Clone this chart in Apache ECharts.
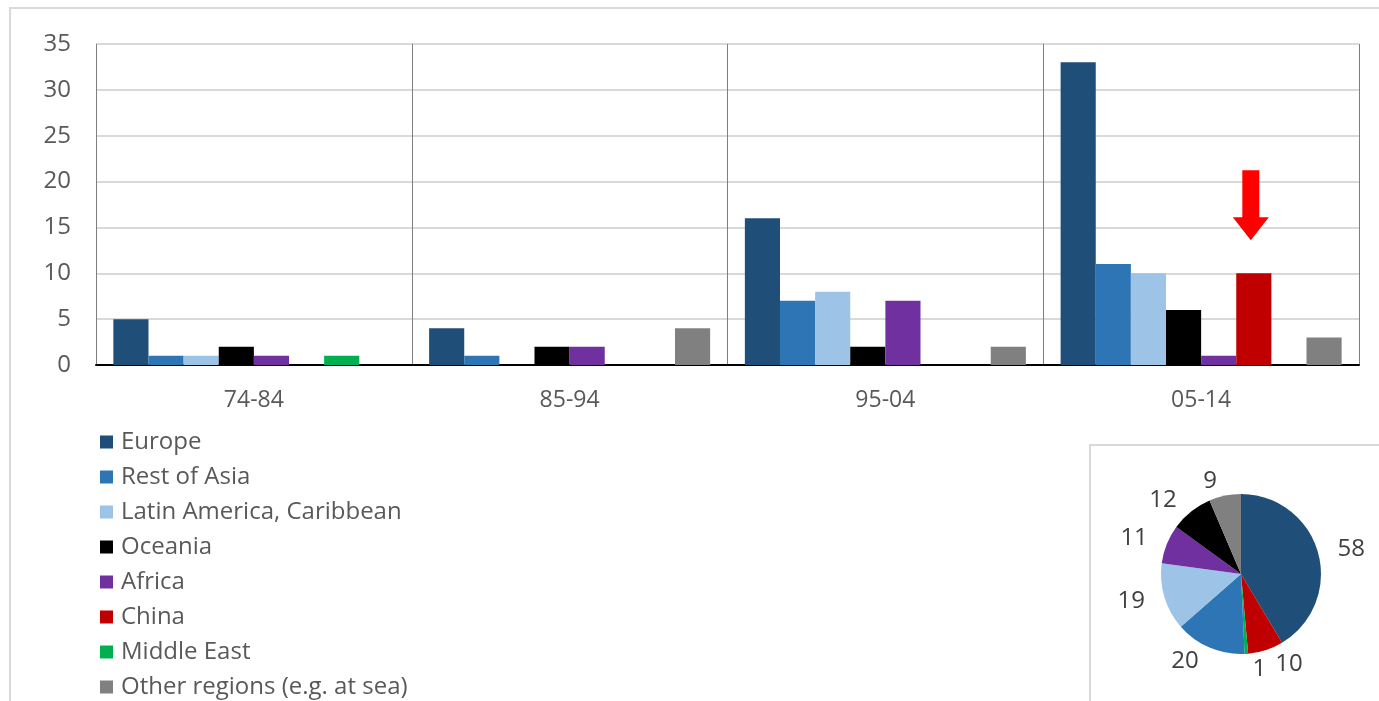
<!DOCTYPE html>
<html>
<head>
<meta charset="utf-8">
<script src="https://cdn.jsdelivr.net/npm/echarts@6/dist/echarts.min.js"></script>
<style>
  html, body { margin: 0; padding: 0; background: #fff; }
  #main { width: 1379px; height: 701px; }
</style>
</head>
<body>
<div id="main"></div>
<script>
// periods on the x axis
const periods = ["74-84", "85-94", "95-04", "05-14"];

// counts per region and period
const europe = [5, 4, 16, 33];
const restOfAsia = [1, 1, 7, 11];
const latinAmerica = [1, 0, 8, 10];
const oceania = [2, 2, 2, 6];
const africa = [1, 2, 7, 1];
const china = [0, 0, 0, 10];
const middleEast = [1, 0, 0, 0];
const otherRegions = [0, 4, 2, 3];

// totals shown in the small pie (clockwise from the top)
const pieNames = ["Europe", "China", "Middle East", "Rest of Asia", "Latin America, Caribbean", "Africa", "Oceania", "Other regions (e.g. at sea)"];
const pieValues = [58, 10, 1, 20, 19, 11, 12, 9];

const yTicks = { min: 0, max: 35, step: 5 };

const colors = {
  "Europe": "#1F4E79",
  "Rest of Asia": "#2E75B6",
  "Latin America, Caribbean": "#9DC3E6",
  "Oceania": "#000000",
  "Africa": "#7030A0",
  "China": "#C00000",
  "Middle East": "#00B050",
  "Other regions (e.g. at sea)": "#808080"
};

const regions = [
  ["Europe", europe],
  ["Rest of Asia", restOfAsia],
  ["Latin America, Caribbean", latinAmerica],
  ["Oceania", oceania],
  ["Africa", africa],
  ["China", china],
  ["Middle East", middleEast],
  ["Other regions (e.g. at sea)", otherRegions]
];

const font = "'Open Sans', 'DejaVu Sans', sans-serif";

let myChart = echarts.init(document.getElementById("main"));

let barSeries = regions.map(([name, values]) => {
  let s = {
    name: name,
    type: "bar",
    barGap: 0,
    barCategoryGap: "11%",
    itemStyle: { color: colors[name] },
    data: values
  };
  if (name === "China") {
    // red arrow pointing at the China bar in 05-14
    s.markPoint = {
      symbol: "path://M9.5,0 L26.5,0 L26.5,47 L36,47 L18,70 L0,47 L9.5,47 Z",
      symbolSize: [36, 70],
      symbolOffset: [-3, -68],
      itemStyle: { color: "#FF0000" },
      label: { show: false },
      silent: true,
      data: [{ coord: ["05-14", 10] }]
    };
  }
  return s;
});

let option = {
  animation: false,
  backgroundColor: "#fff",
  textStyle: { fontFamily: font },
  graphic: [
    {
      type: "rect",
      shape: { x: 10, y: 8, width: 1400, height: 800 },
      style: { fill: "none", stroke: "#d9d9d9", lineWidth: 2 },
      z: -10
    },
    {
      type: "rect",
      shape: { x: 1090, y: 445, width: 400, height: 300 },
      style: { fill: "#fff", stroke: "#d9d9d9", lineWidth: 2 },
      z: -5
    }
  ],
  legend: {
    orient: "vertical",
    left: 95,
    top: 425,
    height: 290,
    itemWidth: 13,
    itemHeight: 13,
    itemGap: 11,
    icon: "rect",
    textStyle: { fontSize: 24, color: "#595959", fontFamily: font, lineHeight: 24, padding: [0, 0, 0, 3] },
    data: regions.map(r => r[0])
  },
  grid: {
    left: 96,
    right: 20,
    top: 44,
    bottom: 336
  },
  xAxis: {
    type: "category",
    data: periods,
    axisLine: { show: true, lineStyle: { color: "#000", width: 2 } },
    axisTick: { show: false },
    axisLabel: { color: "#595959", fontSize: 23, margin: 24, fontFamily: font },
    splitLine: { show: true, lineStyle: { color: "#7f7f7f", width: 1 } }
  },
  yAxis: {
    type: "value",
    min: yTicks.min,
    max: yTicks.max,
    interval: yTicks.step,
    axisLine: { show: false },
    axisTick: { show: false },
    axisLabel: { color: "#595959", fontSize: 24, margin: 25, fontFamily: font },
    splitLine: { show: true, lineStyle: { color: "#d9d9d9", width: 2 } }
  },
  series: barSeries.concat([
    {
      name: "totals",
      type: "pie",
      center: [1241, 574],
      radius: 80,
      startAngle: 90,
      clockwise: true,
      avoidLabelOverlap: false,
      label: {
        show: true,
        position: "outside",
        formatter: "{c}",
        fontSize: 24,
        color: "#404040",
        fontFamily: font
      },
      labelLine: { show: false, length: 15, length2: 0 },
      itemStyle: { borderColor: "#fff", borderWidth: 0 },
      data: pieNames.map((n, i) => ({ name: n, value: pieValues[i], itemStyle: { color: colors[n] } }))
    }
  ])
};
myChart.setOption(option);
</script>
</body>
</html>
